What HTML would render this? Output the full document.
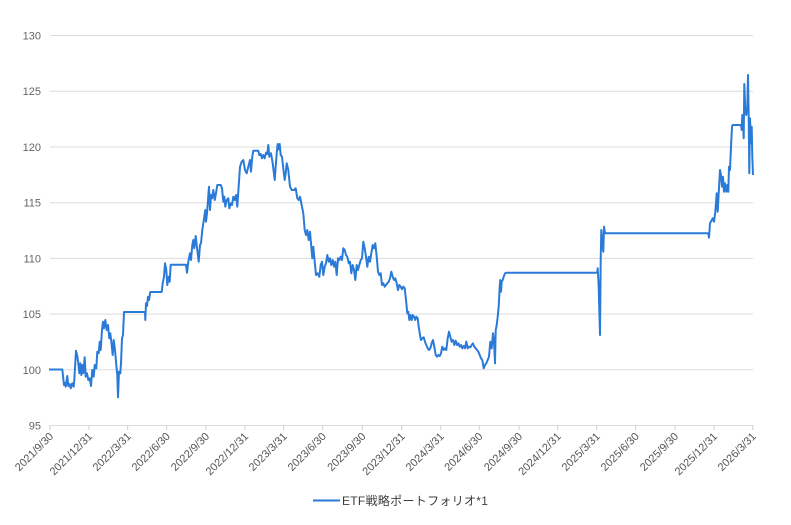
<!DOCTYPE html>
<html><head><meta charset="utf-8"><style>
html,body{margin:0;padding:0;background:#fff;}
svg{display:block;font-family:"Liberation Sans","Noto Sans CJK JP",sans-serif;}
</style></head><body>
<svg width="791" height="525" viewBox="0 0 791 525" xmlns="http://www.w3.org/2000/svg">
<rect width="791" height="525" fill="#fff"/>
<g stroke="#dcdcdc" stroke-width="1">
<line x1="50" y1="35.5" x2="753" y2="35.5"/>
<line x1="50" y1="91.2" x2="753" y2="91.2"/>
<line x1="50" y1="147" x2="753" y2="147"/>
<line x1="50" y1="202.7" x2="753" y2="202.7"/>
<line x1="50" y1="258.4" x2="753" y2="258.4"/>
<line x1="50" y1="314.1" x2="753" y2="314.1"/>
<line x1="50" y1="369.8" x2="753" y2="369.8"/>
<line x1="50" y1="425.5" x2="753" y2="425.5"/>
</g>
<g stroke="#cfcfcf" stroke-width="1">
<line x1="50" y1="425" x2="50" y2="430"/>
<line x1="89" y1="425" x2="89" y2="430"/>
<line x1="127.7" y1="425" x2="127.7" y2="430"/>
<line x1="166.7" y1="425" x2="166.7" y2="430"/>
<line x1="206" y1="425" x2="206" y2="430"/>
<line x1="245" y1="425" x2="245" y2="430"/>
<line x1="283.7" y1="425" x2="283.7" y2="430"/>
<line x1="322.7" y1="425" x2="322.7" y2="430"/>
<line x1="362.3" y1="425" x2="362.3" y2="430"/>
<line x1="401.7" y1="425" x2="401.7" y2="430"/>
<line x1="440.7" y1="425" x2="440.7" y2="430"/>
<line x1="479.3" y1="425" x2="479.3" y2="430"/>
<line x1="519" y1="425" x2="519" y2="430"/>
<line x1="557.7" y1="425" x2="557.7" y2="430"/>
<line x1="596.7" y1="425" x2="596.7" y2="430"/>
<line x1="635.7" y1="425" x2="635.7" y2="430"/>
<line x1="675" y1="425" x2="675" y2="430"/>
<line x1="714" y1="425" x2="714" y2="430"/>
<line x1="752.7" y1="425" x2="752.7" y2="430"/>
</g>
<g fill="#666" font-size="11" text-anchor="end">
<text x="41" y="39.5">130</text>
<text x="41" y="95.2">125</text>
<text x="41" y="151">120</text>
<text x="41" y="206.7">115</text>
<text x="41" y="262.4">110</text>
<text x="41" y="318.1">105</text>
<text x="41" y="373.8">100</text>
<text x="41" y="429.5">95</text>
</g>
<g fill="#555" font-size="11" text-anchor="end">
<text transform="translate(54,437) rotate(-45)">2021/9/30</text>
<text transform="translate(93,437) rotate(-45)">2021/12/31</text>
<text transform="translate(131.7,437) rotate(-45)">2022/3/31</text>
<text transform="translate(170.7,437) rotate(-45)">2022/6/30</text>
<text transform="translate(210,437) rotate(-45)">2022/9/30</text>
<text transform="translate(249,437) rotate(-45)">2022/12/31</text>
<text transform="translate(287.7,437) rotate(-45)">2023/3/31</text>
<text transform="translate(326.7,437) rotate(-45)">2023/6/30</text>
<text transform="translate(366.3,437) rotate(-45)">2023/9/30</text>
<text transform="translate(405.7,437) rotate(-45)">2023/12/31</text>
<text transform="translate(444.7,437) rotate(-45)">2024/3/31</text>
<text transform="translate(483.3,437) rotate(-45)">2024/6/30</text>
<text transform="translate(523,437) rotate(-45)">2024/9/30</text>
<text transform="translate(561.7,437) rotate(-45)">2024/12/31</text>
<text transform="translate(600.7,437) rotate(-45)">2025/3/31</text>
<text transform="translate(639.7,437) rotate(-45)">2025/6/30</text>
<text transform="translate(679,437) rotate(-45)">2025/9/30</text>
<text transform="translate(718,437) rotate(-45)">2025/12/31</text>
<text transform="translate(756.7,437) rotate(-45)">2026/3/31</text>
</g>
<polyline fill="none" stroke="#2a7ad8" stroke-width="2" stroke-linejoin="round" points="
49,369.5 62.3,369.5 64,385 65,383 65.7,386.7 67.3,376 68.3,386 69.7,384 70.7,388.3 72.3,383.3 73.7,386.7 74.3,380 76,350.7 77.3,356 78.3,363.3 79.3,373.3 80.3,363.3 81.3,375 82.3,365 83.3,373.3 84.7,357.3 85.7,376.7 87,373.3 88.3,380 89.7,378.3 91,386 92.3,370 93.7,376.7 94.7,365 96.3,368.3 97.3,351.7 98.7,353.3 99.7,341.7 100.7,350 102,330 103,321.7 104,328.3 105.3,320 106.7,330 108,325 109.3,338.3 110.3,333.3 111.7,345 112.7,355 113.7,340 115,350 116.3,365 117.3,375 118,397.3 119,371.7 120.3,373.3 121,363.3 122,338.3 123,335 124,312 145,312 145.3,320 146,303.3 147,306 148,296.7 149,300 150.3,292 161.7,292 162.7,283.3 164,276.7 165,263.3 166.3,270 167.3,285 168.7,276.7 169.7,281.7 170.7,264.7 186,264.7 187,272.7 188.3,261.7 190,253.3 191,260 192.3,245 193.3,240 194.3,248.3 195.7,236 197.3,250 198.7,261.7 200,245 201,243.3 202.3,230 203.3,223.3 204.3,216.7 205.3,210 206,221.7 207,213.3 208,200 209,186.7 210,210 211,195 212,198.3 213.3,190 214.7,200 215.7,195 217.3,185 220.7,185 222,188.3 223.3,201.7 224.3,196.7 225.3,206.7 226.7,200 228.3,198.3 229.3,208.3 230.7,203.3 232,205 233.3,196.7 234.7,200 236,195 237.3,206.7 238.3,191.7 240,166.7 241.7,161.7 243.3,160 245,170 246.7,173.3 248.3,166.7 250,160 251,171.7 252.3,156.7 253.3,150.7 258.3,150.7 259.3,155 260.7,154 262,158.3 263.3,155 264.7,158.3 266,152.7 267.3,154 268.3,145 269.3,156.7 271,153.3 272.7,163.3 274.7,180 275.7,166.7 276.7,153.3 277.7,144 278.7,149.3 279.7,144 280.7,155 282,156.7 283.3,168.3 284.7,180 285.7,173.3 286.7,163.3 288.3,170 290,186.7 291.7,190 294,190 295.7,188.3 297.3,198.3 298.7,200 300,196.7 301.3,203.3 303.3,213.3 304.7,230 306,235 307.3,230 308.7,240 310,231.7 311.3,246.7 312.3,258.3 313.3,246.7 314.7,261.7 316,275 317.7,273.3 319.3,276.7 320.7,265 322,261.7 323.3,275 324.7,266.7 326,263.3 327.3,255 328.7,261.7 330,258.3 331.3,265 332.7,260 334,266.7 335.3,261.7 336.7,275 338,258.3 339.3,260 340.7,256.7 342,260 343.3,248.3 344.7,250 346,255 347.3,256.7 348.7,263.3 350,261.7 351.3,273.3 352.7,265 354,270 355.3,280 356.7,265 358,270 359.3,265 360.7,260 362,258.3 363.3,241.7 364.7,248.3 366,256.7 367.3,266.7 368.7,256.7 370,261.7 371.3,253.3 372.7,245 374,248.3 375.3,243.3 376.7,256.7 378,271.7 379.3,275 380.7,273.3 382,285 383.3,283.3 384.7,286.7 386,285 387.3,283.3 388.7,281.7 390,278.3 391.3,271.7 392.7,276.7 394,280 395.3,278.3 396.7,283.3 398,290 399.3,285 400.7,286.7 402,289.3 403.3,286.7 404.7,288.3 406,300 407.3,313.3 408.3,311.7 409.3,320 410.3,315 411.7,320 412.7,315 414,316.7 415.3,320 416.3,316.7 417.7,318.3 418.7,326.7 420,335 421,340 422.3,338.3 423.7,337.3 425,341.7 426.3,345 427.7,348.3 429,350 430.3,348.3 431.7,343.3 433,340 434.3,346.7 435.7,355 437,356.7 438.3,355 439.7,356 441,353.3 442.3,346.7 443.7,350 445,348.3 446.3,350 447.7,338.3 449,331.7 450.3,336.7 451.7,341.7 453,340 454.3,345 455.7,340.7 457,345 458.3,343.3 459.7,346.7 461,345 462.3,348.3 463.7,346 465,348.3 466.3,341.7 467.7,348.3 469,346.7 470.3,347.3 471.7,345 473,343.3 474.3,346.7 475.7,348.3 477,350 478.3,351.7 479.7,355 481,358.3 482.3,360 483.7,368.3 485,365 486.3,363.3 487.7,360 489,356.7 490.3,341.7 491.7,348.3 493,333.3 494,341.7 495,363.3 495.7,330 496.7,325 497.7,316.7 498.7,306.7 499.7,286.7 500.3,280 501,291.7 501.7,281.7 502.7,280 503.7,276.7 505,273.3 506,272.7 597.3,272.7 597.7,268.3 598.7,286.7 600,335 600.7,260 601.3,230 602.3,243.3 603.3,251.7 604,226.7 605,233.3 708.3,233.3 709,237.7 710,223.3 711.3,221 712.7,218.3 714,221.7 715.3,211.7 716.7,193.3 717.7,211.7 718.7,193.3 720,170 721,175 722,186.7 723,176.7 724,191.7 725,183.3 726.3,191.7 727.3,185 728.3,191.7 729,166.7 730,170 731,146.7 732,126.7 732.7,125 741,125 741.7,130 742.3,115 743,121.7 743.7,138.3 744.3,84 745.3,110 746.3,115 747.3,106.7 748,75 748.7,116.7 749.3,173.3 750,118.3 751,143.3 751.7,126.7 752.3,156.7 753,175"/>
<line x1="313" y1="500.5" x2="340" y2="500.5" stroke="#2a7ad8" stroke-width="2"/>
<text x="342" y="505" font-size="12" fill="#3c3c3c" letter-spacing="0.3">ETF戦略ポートフォリオ*1</text>
</svg>
</body></html>
